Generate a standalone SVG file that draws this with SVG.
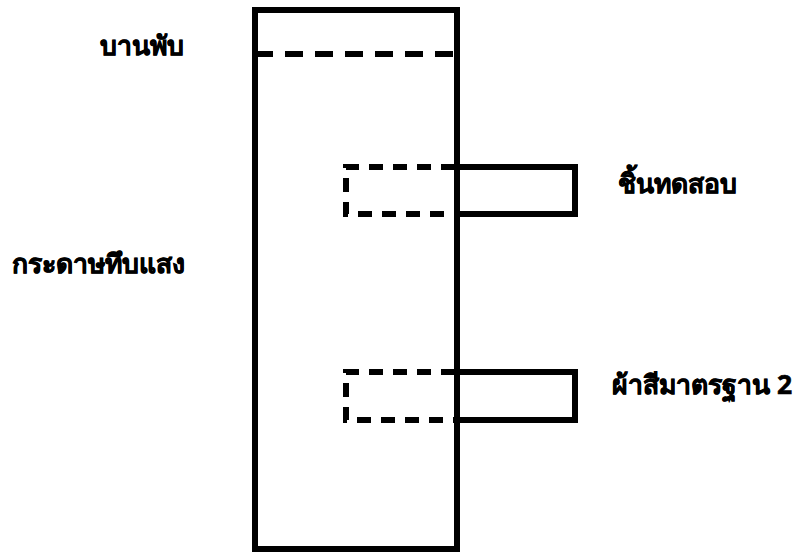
<svg xmlns="http://www.w3.org/2000/svg" width="800" height="552" viewBox="0 0 800 552">
<style>
.s{fill:none;stroke:#000;stroke-width:6}
.d{fill:none;stroke:#000;stroke-width:6;stroke-dasharray:14 10}
.t{font-family:"Noto Sans","DejaVu Sans",sans-serif;font-weight:bold;font-size:26.5px;fill:#000;stroke:#000;stroke-width:0.6}
</style>
<rect width="800" height="552" fill="#fff"/>
<g id="frame">
<rect class="s" x="255" y="10" width="202" height="539"/>
<line x1="255" y1="54" x2="457" y2="54" style="fill:none;stroke:#000;stroke-width:6;stroke-dasharray:18 12"/>
</g>
<g id="specimen">
<path class="s" d="M455 167 H575 V214 H455"/>
<path class="d" d="M455 167 H346 V214 H455"/>
</g>
<g id="standard">
<path class="s" d="M455 372 H575 V420 H455"/>
<path class="d" d="M455 372 H346 V420 H455"/>
</g>
<g id="labels">
<text class="t" x="100" y="55">บานพับ</text>
<text class="t" x="12" y="273">กระดาษทึบแสง</text>
<text class="t" x="618" y="193">ชิ้นทดสอบ</text>
<text class="t" x="612" y="394">ผ้าสีมาตรฐาน 2</text>
</g>
</svg>
